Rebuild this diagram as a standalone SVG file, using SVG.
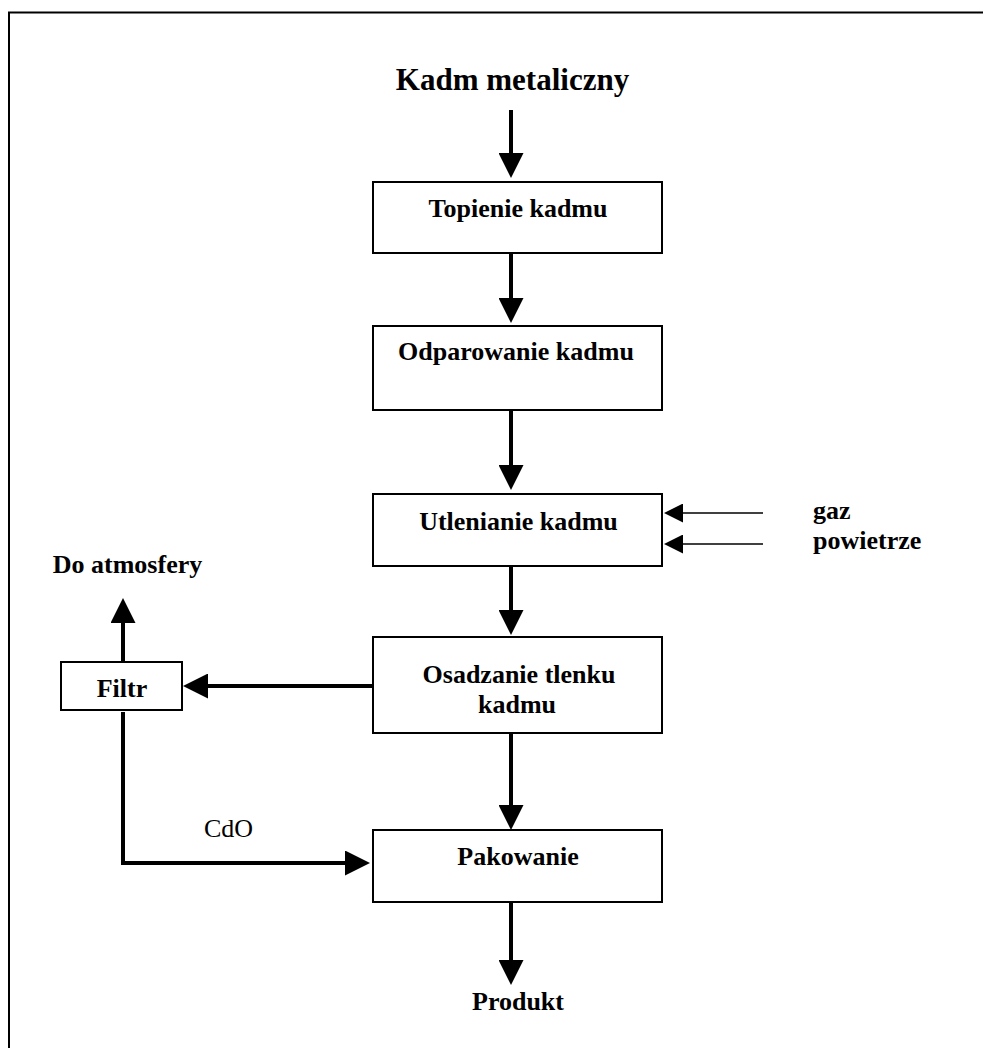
<svg xmlns="http://www.w3.org/2000/svg" width="983" height="1048" viewBox="0 0 983 1048">
  <style>
    .box { fill: #fff; stroke: #000; stroke-width: 2; }
    .lbl { font-family: "Liberation Serif", "Times New Roman", serif; font-weight: bold; font-size: 26px; fill: #000; text-anchor: middle; }
    .side { font-family: "Liberation Serif", "Times New Roman", serif; font-weight: bold; font-size: 26px; fill: #000; }
    .plain { font-family: "Liberation Serif", "Times New Roman", serif; font-size: 26px; fill: #000; }
    .title { font-family: "Liberation Serif", "Times New Roman", serif; font-weight: bold; font-size: 31px; fill: #000; text-anchor: middle; }
    .flow { fill: none; stroke: #000; stroke-width: 4; marker-end: url(#head); }
    .feed { fill: none; stroke: #000; stroke-width: 1.6; marker-end: url(#headSmall); }
  </style>
  <defs>
    <!-- path ends at the base of the head; the head extends forward -->
    <marker id="head" viewBox="0 0 25 25" refX="0" refY="12.5" markerWidth="25" markerHeight="25" markerUnits="userSpaceOnUse" orient="auto">
      <path d="M0,0 L25,12.5 L0,25 Z" fill="#000"/>
    </marker>
    <marker id="headSmall" viewBox="0 0 19 19" refX="0" refY="9.5" markerWidth="19" markerHeight="19" markerUnits="userSpaceOnUse" orient="auto">
      <path d="M0,0 L19,9.5 L0,19 Z" fill="#000"/>
    </marker>
  </defs>

  <rect width="983" height="1048" fill="#fff"/>
  <!-- page frame (top and left edges) -->
  <path d="M9,1048 V12.5 H983" fill="none" stroke="#000" stroke-width="2"/>

  <g id="connectors">
    <path class="flow" d="M511,110 V153"/>
    <path class="flow" d="M511,253 V298"/>
    <path class="flow" d="M511,410 V465"/>
    <path class="flow" d="M511,566 V610"/>
    <path class="flow" d="M511,733 V805"/>
    <path class="flow" d="M511,902 V960"/>
    <path class="flow" d="M373,686 H208"/>
    <path class="flow" d="M123,661 V623"/>
    <path class="flow" d="M123,712 V863 H345"/>
    <path class="feed" d="M763,513 H683"/>
    <path class="feed" d="M763,544 H683"/>
  </g>

  <g id="input">
    <text class="title" x="512.5" y="90">Kadm metaliczny</text>
  </g>

  <g id="topienie">
    <rect class="box" x="373" y="182" width="289" height="71"/>
    <text class="lbl" x="518" y="217">Topienie kadmu</text>
  </g>

  <g id="odparowanie">
    <rect class="box" x="373" y="326" width="289" height="84"/>
    <text class="lbl" x="516" y="360">Odparowanie kadmu</text>
  </g>

  <g id="utlenianie">
    <rect class="box" x="373" y="494" width="289" height="72"/>
    <text class="lbl" x="518.5" y="530">Utlenianie kadmu</text>
  </g>

  <g id="feeds">
    <text class="side" x="813" y="519">gaz</text>
    <text class="side" x="813" y="549">powietrze</text>
  </g>

  <g id="osadzanie">
    <rect class="box" x="373" y="637" width="289" height="96"/>
    <text class="lbl" x="519" y="683">Osadzanie tlenku</text>
    <text class="lbl" x="517" y="713">kadmu</text>
  </g>

  <g id="filtr">
    <rect class="box" x="61" y="662" width="121" height="48"/>
    <text class="lbl" x="122" y="697">Filtr</text>
  </g>

  <g id="atmosfera">
    <text class="lbl" x="127.5" y="573">Do atmosfery</text>
  </g>

  <g id="cdo">
    <text class="plain" x="204" y="837">CdO</text>
  </g>

  <g id="pakowanie">
    <rect class="box" x="373" y="830" width="289" height="72"/>
    <text class="lbl" x="518" y="865">Pakowanie</text>
  </g>

  <g id="produkt">
    <text class="lbl" x="518" y="1010">Produkt</text>
  </g>
</svg>
